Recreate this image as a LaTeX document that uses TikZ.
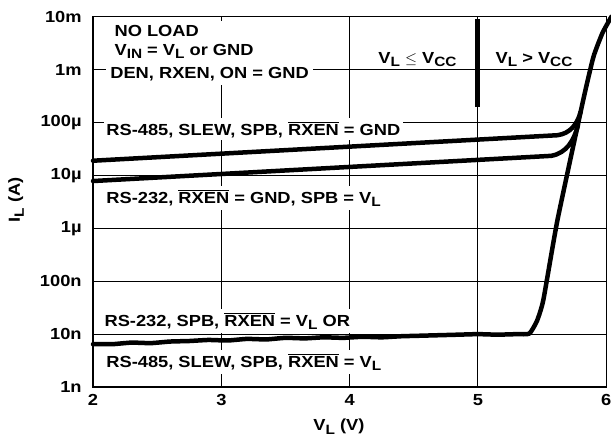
\documentclass[tikz,border=0pt]{standalone}
\usepackage{fontspec}
\setmainfont{Liberation Sans}[FakeStretch=1.14]
\newcommand{\lo}[1]{\raisebox{-0.45ex}{\fontsize{9.6}{10}\selectfont #1}}
\newcommand{\ovl}[1]{$\overline{\mbox{#1}}$}
\begin{document}
\begin{tikzpicture}[
		x=3.2075cm, y=1.3225cm,
		every node/.style={font=\fontsize{11.4}{12}\selectfont\bfseries, inner sep=2pt},
		grid/.style={line width=0.75pt},
		frame/.style={line width=0.95pt},
		tag/.style={fill=white, anchor=base west},
		curve/.style={line width=3.2pt, line cap=round, line join=round},
	]
	\useasboundingbox (1.275,-1.002) rectangle (6.037,7.316);
	% grid and frame
	\foreach \d in {1,...,6} \draw[grid] (2,\d) -- (6,\d);
	\foreach \v in {3,4,5} \draw[grid] (\v,0) -- (\v,7);
	\draw[frame] (2,0) rectangle (6,7);
	\draw[line width=3.5pt] (5,6.957) -- (5,5.293);
	% axes
	\foreach \v in {2,...,6} \node (xt\v) at (\v,-0.246) {\v};
	\foreach \d/\t in {0/1n,1/10n,2/100n,3/1µ,4/10µ,5/100µ,6/1m,7/10m}
		\node[anchor=east] (yt\d) at (1.935,\d) {\t};
	\node (xlabel) at (3.917,-0.756) {V\lo{L} (V)};
	\node[rotate=90] (ylabel) at (1.40,3.535) {I\lo{L} (A)};
	% conditions
	\node[fill=white, anchor=north west, align=left, inner sep=3pt] (noload) at (2.10,6.93)
		{\hspace*{3pt}NO LOAD\\[1.5pt] \hspace*{3pt}V\lo{IN} = V\lo{L} or GND\\[4.3pt] DEN, RXEN, ON = GND};
	\node[anchor=base] (below) at (4.529,6.125) {V\lo{L} $\leq$ V\lo{CC}};
	\node[anchor=base] (above) at (5.437,6.125) {V\lo{L} > V\lo{CC}};
	% curve labels
	\node[tag] (rs485gnd) at (2.08,4.764) {RS-485, SLEW, SPB, \ovl{RXEN} = GND};
	\node[tag] (rs232gnd) at (2.08,3.478) {RS-232, \ovl{RXEN} = GND, SPB = V\lo{L}};
	\node[tag] (rs232vl) at (2.066,1.153) {RS-232, SPB, \ovl{RXEN} = V\lo{L} OR};
	\node[tag] (rs485vl) at (2.08,0.378) {RS-485, SLEW, SPB, \ovl{RXEN} = V\lo{L}};
	% curves
	\draw[curve] (2,4.278) -- (5.62,4.76) to[out=8,in=255] (5.80,5.2);
	\draw[curve] (2,3.894) -- (5.57,4.37) to[out=10,in=255] (5.78,4.95);
	\draw[curve] plot[smooth, tension=0.3] coordinates {(2,0.81) (2.15,0.81) (2.3,0.84) (2.45,0.83)
		(2.6,0.86) (2.75,0.87) (2.9,0.89) (3.05,0.88) (3.2,0.91) (3.35,0.90) (3.5,0.93) (3.65,0.92)
		(3.8,0.94) (3.95,0.93) (4.1,0.95) (4.25,0.94) (4.4,0.96) (4.55,0.97) (4.7,0.98) (4.85,0.99)
		(5.0,1.0) (5.15,0.99) (5.3,1.0) (5.40,1.01) (5.46,1.25) (5.51,1.65) (5.62,3.16) (5.82,5.42)
		(5.90,6.24) (5.97,6.69) (6.04,7.0)};
\end{tikzpicture}
\end{document}
